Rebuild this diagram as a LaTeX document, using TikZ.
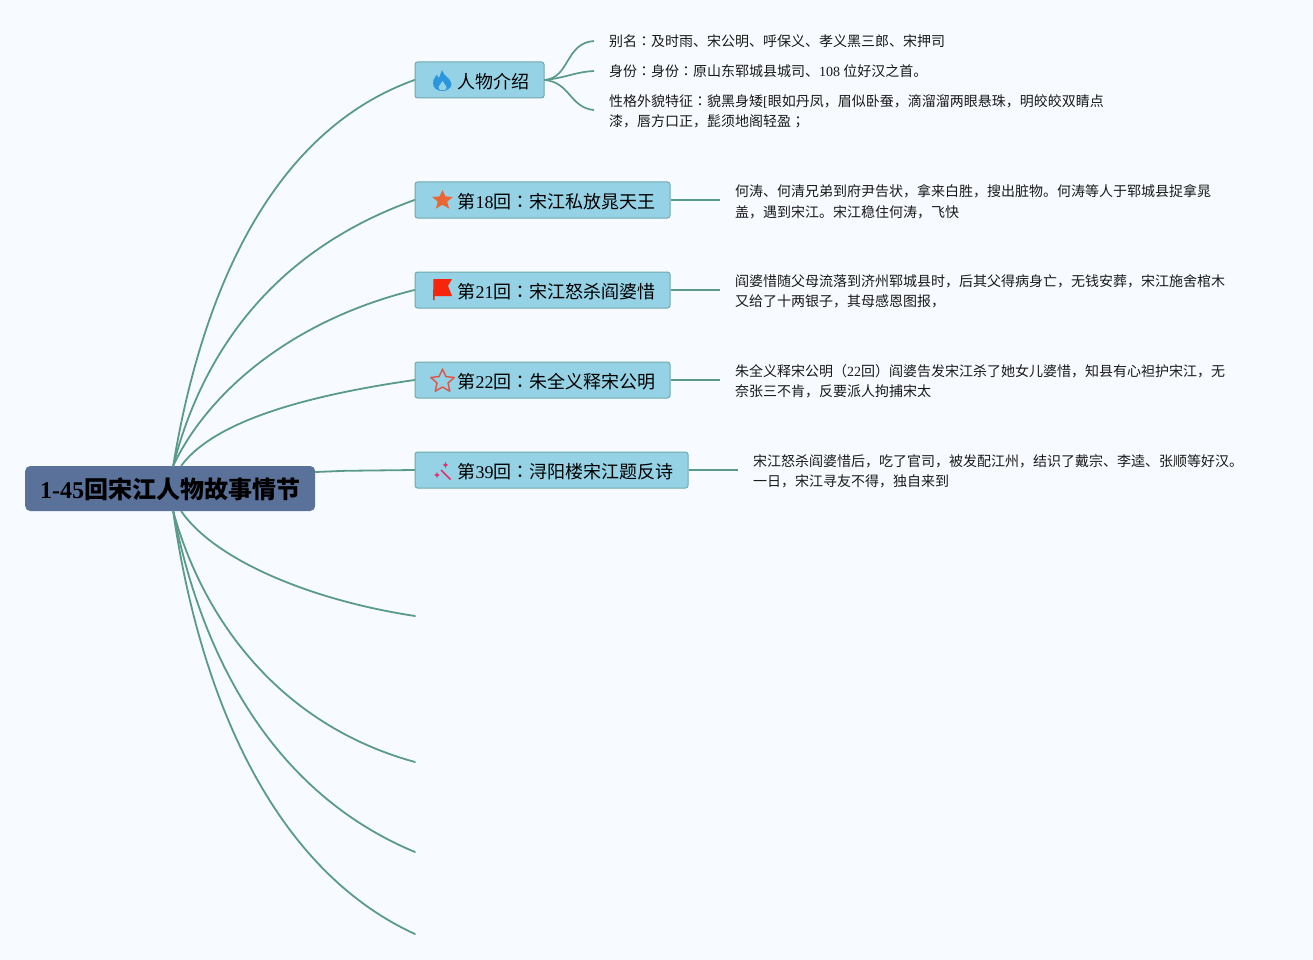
\documentclass[tikz,border=0pt]{standalone}
\usepackage{fontspec}
\setmainfont{Noto Sans CJK SC}
\newfontfamily\latf{Liberation Serif}
\newfontfamily\tcf{Noto Sans CJK TC}
\newcommand{\lat}[1]{{\latf #1}}
\newcommand{\cln}{{\tcf ：}}
\definecolor{bgc}{HTML}{F7FBFF}
\definecolor{linec}{HTML}{5A9A8B}
\definecolor{boxc}{HTML}{96D2E5}
\definecolor{boxb}{HTML}{6FA9AC}
\definecolor{rootc}{HTML}{5A7299}
\tikzset{
  x=1pt,y=-1pt,
  link/.style={draw=linec,line width=1.8pt,line cap=round},
  sublink/.style={draw=linec,line width=1.7pt},
  topic/.style={draw=boxb,fill=boxc,line width=1pt,rounded corners=2.5pt,anchor=west,inner xsep=0pt,inner ysep=0pt,minimum height=36pt,text height=16.5pt,text depth=-1.5pt,font=\fontsize{18}{22}\selectfont,text=black},
  rootbox/.style={fill=rootc,rounded corners=5pt,anchor=west,inner xsep=15pt,inner ysep=0pt,minimum height=45pt,text height=20pt,text depth=-1pt,font=\fontsize{24}{28}\selectfont\bfseries,text=black},
  detail/.style={anchor=west,inner sep=0pt,align=left,font=\fontsize{14}{20.5}\selectfont,text=black!90},
}
\begin{document}
\begin{tikzpicture}
\path[use as bounding box,fill=bgc] (0,0) rectangle (1313,960);

% nodes
\node[rootbox] (root) at (25,488.5) {\lat{1-45}回宋江人物故事情节};
\node[topic] (t1) at (414.5,80) {\hspace*{42.5pt}人物介绍\hspace*{14.5pt}};
\node[topic] (t2) at (414.5,200) {\hspace*{42.5pt}第\lat{18}回\cln 宋江私放晁天王\hspace*{14.5pt}};
\node[topic] (t3) at (414.5,290) {\hspace*{42.5pt}第\lat{21}回\cln 宋江怒杀阎婆惜\hspace*{14.5pt}};
\node[topic] (t4) at (414.5,380) {\hspace*{42.5pt}第\lat{22}回\cln 朱全义释宋公明\hspace*{14.5pt}};
\node[topic] (t5) at (414.5,470) {\hspace*{42.5pt}第\lat{39}回\cln 浔阳楼宋江题反诗\hspace*{14.5pt}};

\node[detail] (a1) at (609,41.5) {别名\cln 及时雨、宋公明、呼保义、孝义黑三郎、宋押司};
\node[detail] (a2) at (609,71.5) {身份\cln 身份\cln 原山东郓城县城司、\lat{108} 位好汉之首。};
\node[detail] (a3) at (609,111.5) {性格外貌特征\cln 貌黑身矮\lat{[}眼如丹凤，眉似卧蚕，滴溜溜两眼悬珠，明皎皎双睛点\\漆，唇方口正，髭须地阁轻盈{\tcf ；}};
\node[detail] (d2) at (735,201.5) {何涛、何清兄弟到府尹告状，拿来白胜，搜出脏物。何涛等人于郓城县捉拿晁\\盖，遇到宋江。宋江稳住何涛，飞快};
\node[detail] (d3) at (735,291.5) {阎婆惜随父母流落到济州郓城县时，后其父得病身亡，无钱安葬，宋江施舍棺木\\又给了十两银子，其母感恩图报，};
\node[detail] (d4) at (735,381.5) {朱全义释宋公明（\lat{22}回）阎婆告发宋江杀了她女儿婆惜，知县有心袒护宋江，无\\奈张三不肯，反要派人拘捕宋太};
\node[detail] (d5) at (753,471.5) {宋江怒杀阎婆惜后，吃了官司，被发配江州，结识了戴宗、李逵、张顺等好汉。\\一日，宋江寻友不得，独自来到};

\coordinate (e1) at (415,616);
\coordinate (e2) at (415,762);
\coordinate (e3) at (415,852);
\coordinate (e4) at (415,934);

% root connectors
\coordinate (rt) at ([xshift=3pt]root.north);
\coordinate (rb) at ([xshift=3pt]root.south);
\draw[link] (rt) .. controls (203,285) and (275,130) .. (t1.west);
\draw[link] (rt) .. controls (203,350) and (275,250) .. (t2.west);
\draw[link] (rt) .. controls (205,398) and (285,322) .. (t3.west);
\draw[link] ([xshift=8pt]rt) .. controls (215,420) and (310,395) .. (t4.west);
\draw[link] ([yshift=16.5pt]root.east) -- ++(30,-1.2) -- (t5.west);
\draw[link] ([xshift=8pt]rb) .. controls (215,560) and (310,600) .. (e1);
\draw[link] (rb) .. controls (203,620) and (280,725) .. (e2);
\draw[link] (rb) .. controls (203,665) and (278,795) .. (e3);
\draw[link] (rb) .. controls (200,700) and (275,870) .. (e4);

% sub connectors
\coordinate (a1x) at ([shift={(-15pt,.5pt)}]a1.west);
\coordinate (a2x) at ([shift={(-15pt,.5pt)}]a2.west);
\coordinate (a3x) at ([shift={(-15pt,1.5pt)}]a3.west);
\draw[sublink] (t1.east) .. controls (570,78) and (565,43) .. (a1x);
\draw[sublink] (t1.east) .. controls (565,78) and (575,72) .. (a2x);
\draw[sublink] (t1.east) .. controls (570,82) and (570,108) .. (a3x);
\draw[sublink] (t2.east) -- ([xshift=-15pt]d2.west |- t2.east);
\draw[sublink] (t3.east) -- ([xshift=-15pt]d3.west |- t3.east);
\draw[sublink] (t4.east) -- ([xshift=-15pt]d4.west |- t4.east);
\draw[sublink] (t5.east) -- ([xshift=-15pt]d5.west |- t5.east);

% icons
\fill[color={rgb,255:red,43;green,150;blue,222}] (442,70) .. controls (443,76) and (451,78) .. (451.5,84) .. controls (451.5,88) and (447,91) .. (442.5,91) .. controls (437,91) and (433,88) .. (433,83) .. controls (433,79) and (436,76) .. (437,74.5) .. controls (437.5,76.5) and (438,77.5) .. (439,78) .. controls (440,75) and (441,73) .. (442,70) -- cycle;
\fill[boxc] (442.5,81) .. controls (443,84) and (447,85) .. (446.5,88) .. controls (446,91) and (439,91) .. (438.5,88) .. controls (438,86) and (441.5,84) .. (442.5,81) -- cycle;
\fill[color={rgb,255:red,235;green,102;blue,53}] (442.5,190)
  -- ++(2.9,6.4) -- ++(7.4,.6) -- ++(-5.6,4.6) -- ++(1.9,7) -- ++(-6.6,-3.8) -- ++(-6.6,3.8) -- ++(1.9,-7) -- ++(-5.6,-4.6) -- ++(7.4,-.6) -- cycle;
\fill[color={rgb,255:red,245;green,38;blue,12}] (433.5,279) -- (452,279) -- (448,286) -- (452,296) -- (434.5,296) -- (434.5,300) -- (433,300) -- cycle;
\draw[color={rgb,255:red,224;green,84;blue,68},line width=1.4pt,line join=round] (442.5,369)
  -- ++(3.4,7.6) -- ++(8.3,.9) -- ++(-6.2,5.5) -- ++(1.8,8.2) -- ++(-7.3,-4.2) -- ++(-7.3,4.2) -- ++(1.8,-8.2) -- ++(-6.2,-5.5) -- ++(8.3,-.9) -- cycle;
\draw[color={rgb,255:red,226;green,50;blue,110},line width=1.6pt] (441,470) -- (450.5,479.5);
\fill[color={rgb,255:red,226;green,50;blue,110}] (445.5,461.5) -- (446.3,464) -- (448.5,465) -- (446.3,466) -- (445.5,468.5) -- (444.7,466) -- (442.5,465) -- (444.7,464) -- cycle;
\fill[color={rgb,255:red,226;green,50;blue,110}] (437,471.5) -- (437.8,474) -- (440,475) -- (437.8,476) -- (437,478.5) -- (436.2,476) -- (434,475) -- (436.2,474) -- cycle;
\end{tikzpicture}
\end{document}
